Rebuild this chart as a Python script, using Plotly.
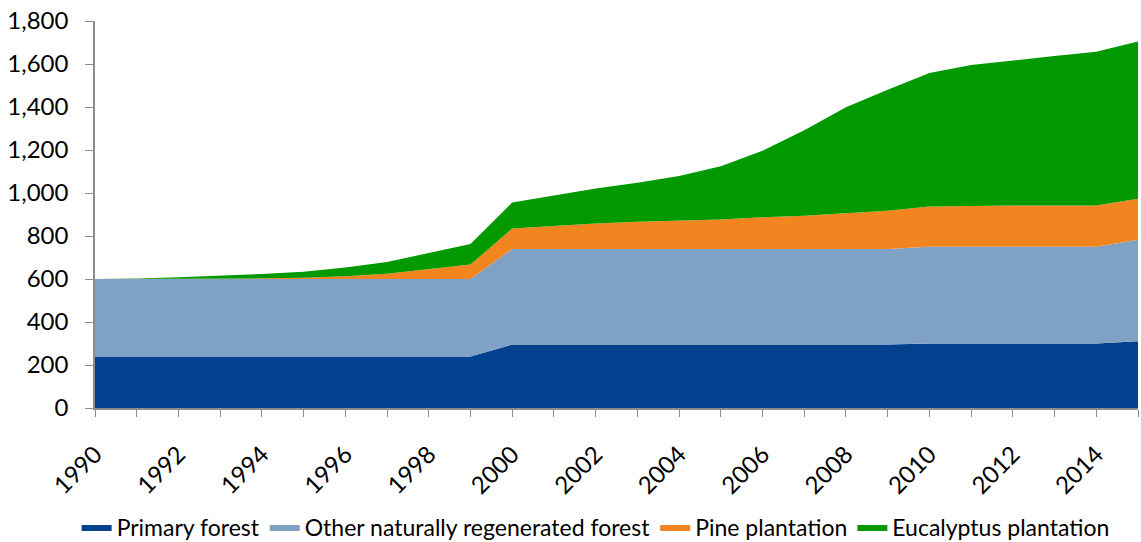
import plotly.graph_objects as go

years = list(range(1990, 2016))
primary = [240]*10 + [295]*10 + [300]*5 + [310]
other_natural = [360]*10 + [445]*10 + [450]*5 + [472]
pine = [0, 0, 1, 2, 3, 6, 13, 25, 45, 67, 95, 108, 118, 126, 132, 137, 147, 154, 166, 178,
        187, 190, 192, 192, 192, 191]
eucalyptus = [0, 2, 7, 13, 20, 28, 40, 54, 75, 96, 121, 139, 163, 182, 207, 247, 310, 398, 493, 562,
              621, 655, 675, 695, 715, 732]

names = ["Primary forest", "Other naturally regenerated forest", "Pine plantation", "Eucalyptus plantation"]
colors = ["#03418F", "#80A1C6", "#F38520", "#009900"]
series = [primary, other_natural, pine, eucalyptus]

fig = go.Figure()
for name, vals, col in zip(names, series, colors):
    fig.add_trace(go.Scatter(
        x=years, y=vals, name=name, mode="lines", stackgroup="one",
        line=dict(width=0, color=col), fillcolor=col,
    ))

font = "Lato, 'Open Sans', sans-serif"
fig.update_layout(
    width=1141, height=542,
    margin=dict(l=95, r=3, t=21, b=134, autoexpand=False),
    paper_bgcolor="white", plot_bgcolor="white",
    font=dict(family=font, size=24, color="#000000"),
    showlegend=True,
    legend=dict(orientation="h", x=0.48, xanchor="center", y=-0.252, yanchor="top",
                font=dict(size=23), itemwidth=30, traceorder="normal"),
    xaxis=dict(range=[1990, 2015], tick0=1990, dtick=2, tickangle=-45, automargin=False,
               showline=True, linecolor="#8c8c8c", linewidth=1.5,
               ticks="outside", ticklen=7, tickcolor="#8c8c8c", ticklabelstandoff=14,
               ticklabeloverflow="allow",
               minor=dict(dtick=1, ticks="outside", ticklen=7, tickcolor="#8c8c8c"),
               showgrid=False, zeroline=False, tickfont=dict(size=24)),
    yaxis=dict(range=[0, 1800], dtick=200, tickformat=",", automargin=False,
               showline=True, linecolor="#8c8c8c", linewidth=1.5,
               ticks="outside", ticklen=8, tickcolor="#8c8c8c", ticklabelstandoff=12,
               ticklabeloverflow="allow",
               showgrid=False, zeroline=False, tickfont=dict(size=24)),
)

fig.write_html("out.html", config={"displayModeBar": False},
               post_script="document.body.style.margin='0';document.body.style.overflow='hidden';")
